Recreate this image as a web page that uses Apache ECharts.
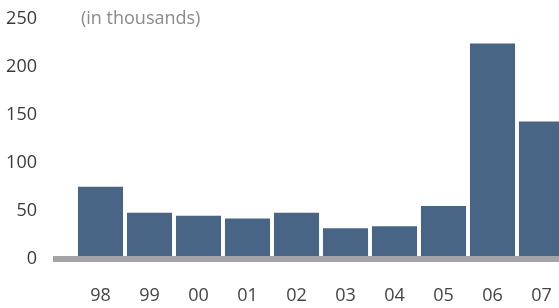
<!DOCTYPE html>
<html>
<head>
<meta charset="utf-8">
<style>
  html, body { margin: 0; padding: 0; background: #fff; }
  #chart { width: 559px; height: 308px; }
</style>
<script src="https://cdn.jsdelivr.net/npm/echarts@6/dist/echarts.min.js"></script>
</head>
<body>
<div id="chart"></div>
<script>
var years = ['98', '99', '00', '01', '02', '03', '04', '05', '06', '07'];
var values = [75, 48, 45, 42, 48, 32, 34, 55, 224, 143];
var yTicks = [0, 50, 100, 150, 200, 250];
var unitNote = '(in thousands)';

var myChart = echarts.init(document.getElementById('chart'));
var font = '"Open Sans", sans-serif';

var option = {
    animation: false,
    title: {
        text: unitNote,
        left: 76,
        top: 5,
        textStyle: { fontFamily: font, fontSize: 18, fontWeight: 'normal', color: '#8a8a8a' }
    },
    grid: [
        // last bar runs off the right edge, so the grid is wider than the page
        { left: 76, width: 490, top: 18.5, bottom: 49, outerBoundsMode: 'none' },
        // wider grid only for the grey baseline that starts left of the first bar
        { left: 53, right: 0, top: 18.5, bottom: 49, outerBoundsMode: 'none' }
    ],
    xAxis: [
        {
            type: 'category',
            gridIndex: 0,
            data: years,
            axisLine: { show: false },
            axisTick: { show: false },
            axisLabel: { fontFamily: font, fontSize: 18, color: '#444', margin: 28 }
        },
        {
            type: 'category',
            gridIndex: 1,
            data: [''],
            z: 10,
            axisLine: { show: true, lineStyle: { color: '#a3a3a8', width: 6, cap: 'butt' } },
            axisTick: { show: false },
            axisLabel: { show: false }
        }
    ],
    yAxis: [
        {
            type: 'value',
            gridIndex: 0,
            min: yTicks[0],
            max: yTicks[yTicks.length - 1],
            interval: 50,
            splitLine: { show: false },
            axisLine: { show: false },
            axisTick: { show: false },
            axisLabel: {
                fontFamily: font, fontSize: 18, color: '#3a3a3a',
                align: 'right', margin: 39
            }
        },
        { type: 'value', gridIndex: 1, show: false, min: 0, max: 250 }
    ],
    series: [
        {
            type: 'bar',
            xAxisIndex: 0,
            yAxisIndex: 0,
            data: values,
            barCategoryGap: '8%',
            itemStyle: { color: '#486586' }
        }
    ]
};

myChart.setOption(option);
</script>
</body>
</html>
